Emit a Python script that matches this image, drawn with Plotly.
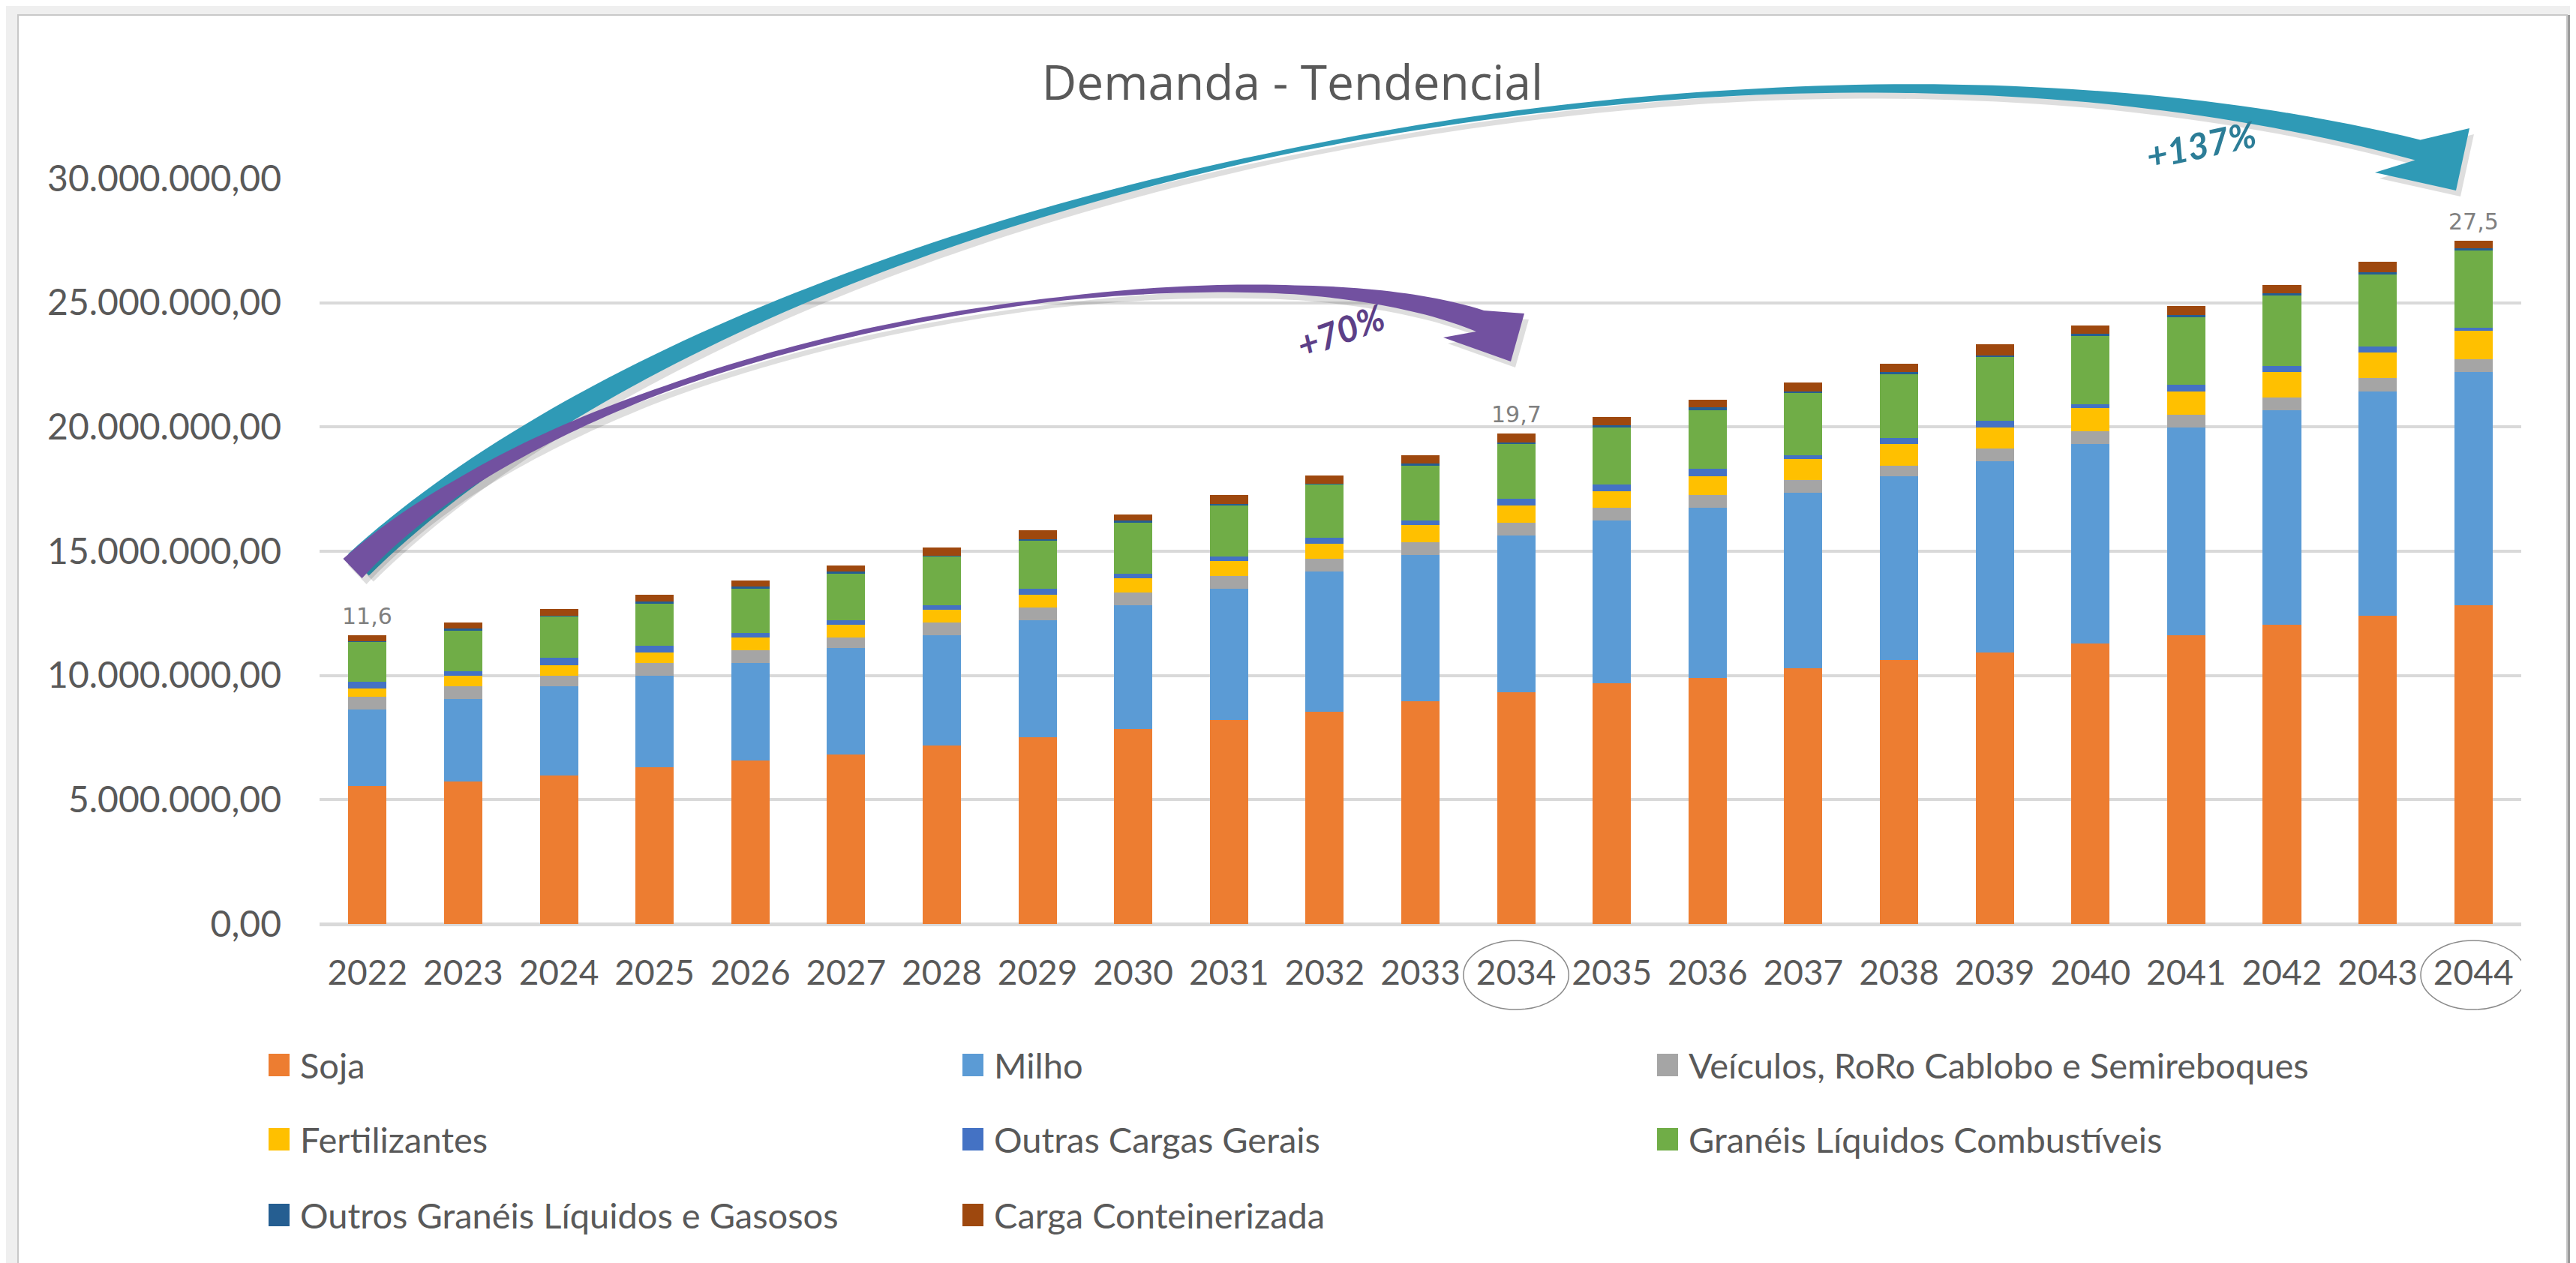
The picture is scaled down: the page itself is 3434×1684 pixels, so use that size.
import numpy as np
import plotly.graph_objects as go

# ---------------- data (values in millions) ----------------
years = [str(y) for y in range(2022, 2045)]

soja = [5.55, 5.73, 5.99, 6.31, 6.59, 6.83, 7.19, 7.52, 7.84, 8.21, 8.53, 8.96,
        9.32, 9.68, 9.90, 10.28, 10.61, 10.94, 11.29, 11.63, 12.05, 12.40, 12.82]
milho = [3.08, 3.33, 3.58, 3.68, 3.91, 4.28, 4.43, 4.70, 4.99, 5.28, 5.66, 5.88,
         6.32, 6.56, 6.85, 7.08, 7.41, 7.69, 8.03, 8.36, 8.62, 9.03, 9.40]
veiculos = [0.51, 0.51, 0.42, 0.51, 0.52, 0.42, 0.51, 0.52, 0.51, 0.52, 0.51, 0.53,
            0.51, 0.51, 0.52, 0.51, 0.42, 0.52, 0.51, 0.51, 0.51, 0.54, 0.52]
fertilizantes = [0.33, 0.42, 0.42, 0.43, 0.51, 0.51, 0.52, 0.51, 0.58, 0.60, 0.60, 0.69,
                 0.69, 0.66, 0.75, 0.85, 0.88, 0.84, 0.94, 0.93, 1.03, 1.02, 1.13]
outras_cargas = [0.28, 0.18, 0.29, 0.28, 0.18, 0.18, 0.18, 0.24, 0.17, 0.18, 0.25, 0.18,
                 0.26, 0.27, 0.29, 0.15, 0.24, 0.26, 0.14, 0.27, 0.24, 0.26, 0.13]
combustiveis = [1.60, 1.64, 1.68, 1.68, 1.78, 1.88, 1.96, 1.96, 2.06, 2.05, 2.14, 2.21,
                2.22, 2.30, 2.36, 2.50, 2.57, 2.57, 2.75, 2.72, 2.85, 2.90, 3.10]
outros_liquidos = [0.02, 0.07, 0.02, 0.09, 0.10, 0.10, 0.02, 0.02, 0.09, 0.07, 0.02, 0.07,
                   0.06, 0.09, 0.11, 0.06, 0.09, 0.06, 0.09, 0.08, 0.09, 0.09, 0.09]
conteiner = [0.25, 0.25, 0.27, 0.27, 0.23, 0.23, 0.33, 0.37, 0.24, 0.35, 0.33, 0.35,
             0.36, 0.33, 0.32, 0.36, 0.33, 0.45, 0.34, 0.37, 0.32, 0.41, 0.31]

series_names = ["Soja", "Milho", "Veículos, RoRo Cablobo e Semireboques", "Fertilizantes",
                "Outras Cargas Gerais", "Granéis Líquidos Combustíveis",
                "Outros Granéis Líquidos e Gasosos", "Carga Conteinerizada"]
series_values = [soja, milho, veiculos, fertilizantes, outras_cargas, combustiveis,
                 outros_liquidos, conteiner]
series_colors = ["#ED7D31", "#5B9BD5", "#A5A5A5", "#FFC000", "#4472C4", "#70AD47",
                 "#255E91", "#9E480E"]

labeled_years = ["2022", "2034", "2044"]
circled_years = ["2034", "2044"]

title_text = "Demanda - Tendencial"
growth_texts = ["+70%", "+137%"]

# ---------------- layout geometry (pixels) ----------------
W, H = 3434, 1684
L, R, T, B = 418, 81, 230, 460
PW, PH = W - L - R, H - T - B


def px(x):
    return (x - L) / PW


def py(y):
    return (H - B - y) / PH


TXT = "#595959"
FONT = "Lato"

fig = go.Figure()
for name, vals, col in zip(series_names, series_values, series_colors):
    fig.add_trace(go.Bar(x=years, y=[v * 1e6 for v in vals], name=name,
                         marker=dict(color=col, line=dict(width=0)), showlegend=False))

totals = [sum(v[i] for v in series_values) for i in range(len(years))]

annotations = []
shapes = []

# ---- frame ----
shapes.append(dict(type="rect", xref="paper", yref="paper", layer="below",
                   x0=px(3414), x1=px(3432), y0=py(1684), y1=py(14),
                   fillcolor="#b5b5b5", line=dict(width=0)))
shapes.append(dict(type="rect", xref="paper", yref="paper", layer="below",
                   x0=px(3414), x1=px(3421), y0=py(1684), y1=py(12),
                   fillcolor="#9c9c9c", line=dict(width=0)))
shapes.append(dict(type="rect", xref="paper", yref="paper", layer="below",
                   x0=px(16), x1=px(3414), y0=py(1680), y1=py(12),
                   fillcolor="white", line=dict(color="#c8c8c8", width=2)))

# ---- data labels ----
for yr in labeled_years:
    i = years.index(yr)
    annotations.append(dict(x=i, y=totals[i] * 1e6, xref="x", yref="y",
                            text=f"{totals[i]:.1f}".replace(".", ","),
                            showarrow=False, xanchor="center", yanchor="bottom", yshift=6,
                            font=dict(family="DejaVu Sans", size=30, color="#808080")))

# ---- circles around selected x labels ----
for yr in circled_years:
    i = years.index(yr)
    shapes.append(dict(type="circle", xref="x", yref="paper",
                       x0=i - 0.55, x1=i + 0.55, y0=py(1338), y1=py(1246),
                       line=dict(color="#8a8a8a", width=1.5)))

# ---- custom legend (3 columns) ----
col_x = [350, 1275, 2201]
row_y = [1412, 1511, 1612]
for k, (name, col) in enumerate(zip(series_names, series_colors)):
    cx = col_x[k % 3]
    ry = row_y[k // 3]
    shapes.append(dict(type="rect", xref="paper", yref="paper",
                       x0=px(cx), x1=px(cx + 28), y0=py(ry + 15), y1=py(ry - 15),
                       fillcolor=col, line=dict(width=0)))
    annotations.append(dict(x=px(cx + 40), y=py(ry), xref="paper", yref="paper",
                            text=name, showarrow=False, xanchor="left", yanchor="middle",
                            font=dict(family=FONT, size=47, color=TXT)))


# ---- curved arrows ----
def bez(P, t):
    P = [np.array(p, float) for p in P]
    u = 1 - t
    return (np.outer(u ** 3, P[0]) + np.outer(3 * u ** 2 * t, P[1])
            + np.outer(3 * u * t ** 2, P[2]) + np.outer(t ** 3, P[3]))


def bezd(P, t):
    P = [np.array(p, float) for p in P]
    u = 1 - t
    return (np.outer(3 * u ** 2, P[1] - P[0]) + np.outer(6 * u * t, P[2] - P[1])
            + np.outer(3 * t ** 2, P[3] - P[2]))


def ribbon(P, wt, wv, lower_barb, tip, upper_barb, dx=0, dy=0):
    t = np.linspace(0, 1, 120)
    pts = bez(P, t)
    d = bezd(P, t)
    d = d / np.linalg.norm(d, axis=1)[:, None]
    n = np.stack([-d[:, 1], d[:, 0]], axis=1)
    w = np.interp(t, wt, wv)
    low = pts + n * (w / 2)[:, None]
    up = pts - n * (w / 2)[:, None]
    poly = list(low) + [np.array(lower_barb), np.array(tip), np.array(upper_barb)] + list(up[::-1])
    s = "M " + " L ".join(f"{px(p[0] + dx):.5f},{py(p[1] + dy):.5f}" for p in poly) + " Z"
    return s


teal_P = [(470, 745), (980, 260), (2300, -45), (3215, 192)]
teal_w = ([0, 0.12, 0.3, 0.5, 0.7, 0.85, 1.0], [40, 30, 16, 6, 8, 16, 28])
teal_head = [(3158, 222), (3266, 246), (3284, 163)]

purple_P = [(462, 750), (800, 420), (1650, 305), (1965, 420)]
purple_w = ([0, 0.12, 0.3, 0.6, 0.8, 1.0], [36, 20, 8, 5, 12, 30])
purple_head = [(1916, 442), (2006, 474), (2024, 410)]

for P, (wt, wv), hd, colr in [(teal_P, teal_w, teal_head, "#2f9ab6"),
                              (purple_P, purple_w, purple_head, "#7251a0")]:
    shapes.append(dict(type="path", xref="paper", yref="paper",
                       path=ribbon(P, wt, wv, *hd, dx=6, dy=8),
                       fillcolor="rgba(0,0,0,0.13)", line=dict(width=0)))
    shapes.append(dict(type="path", xref="paper", yref="paper",
                       path=ribbon(P, wt, wv, *hd),
                       fillcolor=colr, line=dict(width=0)))

annotations.append(dict(x=px(1779), y=py(433), xref="paper", yref="paper",
                        text=f"<b><i>{growth_texts[0]}</i></b>", showarrow=False,
                        xanchor="center", yanchor="middle",
                        textangle=-20, font=dict(family=FONT, size=48, color="#5d3f87")))
annotations.append(dict(x=px(2926), y=py(184), xref="paper", yref="paper",
                        text=f"<b><i>{growth_texts[1]}</i></b>", showarrow=False,
                        xanchor="center", yanchor="middle",
                        textangle=-12, font=dict(family=FONT, size=48, color="#2c7d97")))

fig.update_layout(
    width=W, height=H,
    margin=dict(l=L, r=R, t=T, b=B, autoexpand=False),
    paper_bgcolor="#efefef", plot_bgcolor="rgba(0,0,0,0)",
    barmode="stack", bargap=0.6,
    separators=",.",
    title=dict(text=title_text, x=(1715 / W), xanchor="center", y=1 - 103 / H, yanchor="middle",
               font=dict(family="Open Sans", size=64, color=TXT)),
    xaxis=dict(type="category", range=[-0.5, len(years) - 0.5], autorange=False,
               showgrid=False, showline=False, ticks="",
               tickfont=dict(family=FONT, size=46, color=TXT), ticklabelstandoff=34,
               automargin=False),
    yaxis=dict(range=[0, 30e6], autorange=False, dtick=5e6, tickformat=",.2f",
               showgrid=True, gridcolor="#d9d9d9", gridwidth=4,
               zeroline=True, zerolinecolor="#d9d9d9", zerolinewidth=5,
               showline=False, ticks="",
               tickfont=dict(family=FONT, size=48, color=TXT), ticklabelstandoff=50,
               automargin=False),
    annotations=annotations, shapes=shapes,
    showlegend=False,
)

fig.write_html("out.html")
